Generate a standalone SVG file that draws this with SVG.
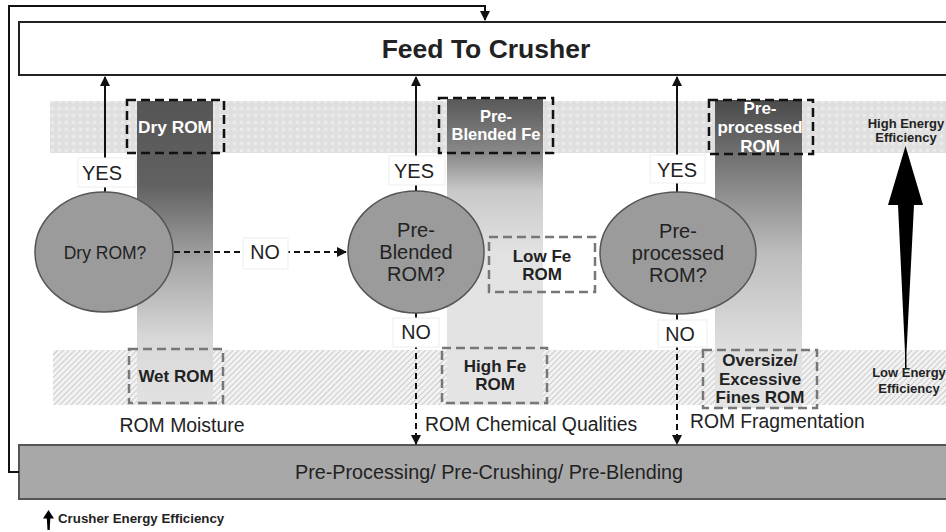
<svg xmlns="http://www.w3.org/2000/svg" width="946" height="532" viewBox="0 0 946 532">
<style>
text{font-family:"Liberation Sans",Arial,sans-serif;fill:#222}
.b{font-weight:bold}
.w{fill:#fff;font-weight:bold}
.lbl{fill:#fff;stroke:#eee;stroke-width:1}
.ell{fill:#9b9b9b;stroke:#555;stroke-width:1.5}
.kd{fill:none;stroke:#111;stroke-width:2.5;stroke-dasharray:9 5}
.gd{fill:none;stroke:#777;stroke-width:2.5;stroke-dasharray:9 5}
.sol{fill:none;stroke:#111;stroke-width:2}
.dsh{fill:none;stroke:#111;stroke-width:2;stroke-dasharray:6 4}
</style>
<defs>
<marker id="ah" viewBox="0 0 10 10" refX="9" refY="5" markerWidth="5" markerHeight="5" orient="auto"><path d="M0,0 L10,5 L0,10 z" fill="#111"/></marker>
<pattern id="dots" width="7" height="7" patternUnits="userSpaceOnUse"><rect width="7" height="7" fill="#dfdfdf"/><circle cx="3.5" cy="3.5" r="2" fill="#eaeaea"/></pattern>
<pattern id="hatch" width="4" height="4" patternUnits="userSpaceOnUse" patternTransform="rotate(45)"><rect width="4" height="4" fill="#f2f2f2"/><line x1="0" y1="0" x2="0" y2="4" stroke="#bcbcbc" stroke-width="1.4"/></pattern>
<linearGradient id="g1" x1="0" y1="0" x2="0" y2="1"><stop offset="0" stop-color="#555"/><stop offset="0.28" stop-color="#626262"/><stop offset="0.52" stop-color="#a3a3a3"/><stop offset="0.78" stop-color="#d8d8d8"/><stop offset="1" stop-color="#e2e2e2"/></linearGradient>
<linearGradient id="g2" x1="0" y1="0" x2="0" y2="1"><stop offset="0" stop-color="#595959"/><stop offset="0.18" stop-color="#8a8a8a"/><stop offset="0.3" stop-color="#c8c8c8"/><stop offset="0.5" stop-color="#e2e2e2"/><stop offset="1" stop-color="#e4e4e4"/></linearGradient>
<linearGradient id="g3" x1="0" y1="0" x2="0" y2="1"><stop offset="0" stop-color="#4a4a4a"/><stop offset="0.22" stop-color="#7a7a7a"/><stop offset="0.5" stop-color="#bdbdbd"/><stop offset="0.8" stop-color="#dedede"/><stop offset="1" stop-color="#e4e4e4"/></linearGradient>
</defs>

<g id="bands">
<rect x="50" y="101" width="896" height="52" fill="url(#dots)"/>
<rect x="53" y="350" width="893" height="55" fill="url(#hatch)"/>
</g>

<g id="columns">
<rect x="137" y="101" width="76" height="304" fill="url(#g1)"/>
<rect x="447" y="99" width="96" height="306" fill="url(#g2)"/>
<rect x="715" y="100" width="87" height="308" fill="url(#g3)"/>
</g>

<g id="feed">
<rect x="19" y="22" width="940" height="53" fill="#fff" stroke="#222" stroke-width="2"/>
<text x="486" y="58" font-size="26.5" class="b" text-anchor="middle">Feed To Crusher</text>
</g>

<g id="pre-processing">
<rect x="19" y="445" width="940" height="54" fill="#a8a8a8" stroke="#555" stroke-width="2"/>
<text x="489" y="479" font-size="19.8" text-anchor="middle">Pre-Processing/ Pre-Crushing/ Pre-Blending</text>
</g>

<g id="connectors">
<path class="sol" d="M19,472 H9 V6 H485 V20" marker-end="url(#ah)"/>
<line class="sol" x1="105" y1="193" x2="105" y2="77" marker-end="url(#ah)"/>
<line class="sol" x1="416" y1="193" x2="416" y2="77" marker-end="url(#ah)"/>
<line class="sol" x1="677" y1="193" x2="677" y2="77" marker-end="url(#ah)"/>
<line class="dsh" x1="174" y1="252" x2="346" y2="252" marker-end="url(#ah)"/>
<line class="dsh" x1="416" y1="313" x2="416" y2="444" marker-end="url(#ah)"/>
<line class="dsh" x1="677" y1="314" x2="677" y2="444" marker-end="url(#ah)"/>
</g>

<g id="dry-rom-box">
<rect class="kd" x="127" y="100" width="97" height="53"/>
<text x="175" y="133" font-size="17.3" class="w" text-anchor="middle">Dry ROM</text>
</g>
<g id="pre-blended-fe-box">
<rect class="kd" x="439" y="98" width="114" height="55"/>
<text x="496" y="122" font-size="16.5" class="w" text-anchor="middle">Pre-</text>
<text x="496" y="140" font-size="16.5" class="w" text-anchor="middle">Blended Fe</text>
</g>
<g id="pre-processed-rom-box">
<rect class="kd" x="709" y="100" width="104" height="54"/>
<text x="760" y="114" font-size="17" class="w" text-anchor="middle">Pre-</text>
<text x="760" y="133" font-size="17" class="w" text-anchor="middle">processed</text>
<text x="760" y="152" font-size="17" class="w" text-anchor="middle">ROM</text>
</g>

<g id="low-fe-box">
<rect class="gd" x="489" y="237" width="106" height="55"/>
<text x="542" y="262" font-size="17" class="b" text-anchor="middle">Low Fe</text>
<text x="542" y="280" font-size="17" class="b" text-anchor="middle">ROM</text>
</g>
<g id="wet-rom-box">
<rect class="gd" x="129" y="349" width="94" height="54"/>
<text x="176" y="382" font-size="17" class="b" text-anchor="middle">Wet ROM</text>
</g>
<g id="high-fe-box">
<rect class="gd" x="442" y="348" width="105" height="55"/>
<text x="495" y="372" font-size="17" class="b" text-anchor="middle">High Fe</text>
<text x="495" y="390" font-size="17" class="b" text-anchor="middle">ROM</text>
</g>
<g id="oversize-box">
<rect class="gd" x="703" y="350" width="114" height="58"/>
<text x="760" y="366" font-size="17" class="b" text-anchor="middle">Oversize/</text>
<text x="760" y="385" font-size="17" class="b" text-anchor="middle">Excessive</text>
<text x="760" y="403" font-size="17" class="b" text-anchor="middle">Fines ROM</text>
</g>

<g id="dry-rom-q">
<ellipse class="ell" cx="104" cy="252" rx="69" ry="60"/>
<text x="105" y="259" font-size="17.5" text-anchor="middle">Dry ROM?</text>
</g>
<g id="pre-blended-q">
<ellipse class="ell" cx="416" cy="252" rx="68" ry="61"/>
<text x="416" y="237" font-size="20" text-anchor="middle">Pre-</text>
<text x="416" y="259" font-size="20" text-anchor="middle">Blended</text>
<text x="416" y="281" font-size="20" text-anchor="middle">ROM?</text>
</g>
<g id="pre-processed-q">
<ellipse class="ell" cx="678" cy="253" rx="78" ry="61"/>
<text x="678" y="238" font-size="20" text-anchor="middle">Pre-</text>
<text x="678" y="260" font-size="20" text-anchor="middle">processed</text>
<text x="678" y="282" font-size="20" text-anchor="middle">ROM?</text>
</g>

<g id="labels">
<rect class="lbl" x="78" y="158" width="58" height="29"/>
<text x="102" y="180" font-size="20" text-anchor="middle">YES</text>
<rect class="lbl" x="389" y="156" width="56" height="29"/>
<text x="414" y="178" font-size="20" text-anchor="middle">YES</text>
<rect class="lbl" x="650" y="155" width="55" height="28"/>
<text x="677" y="177" font-size="20" text-anchor="middle">YES</text>
<rect class="lbl" x="243" y="238" width="45" height="31"/>
<text x="265" y="259" font-size="19.7" text-anchor="middle">NO</text>
<rect class="lbl" x="393" y="318" width="46" height="29"/>
<text x="416" y="339" font-size="19.7" text-anchor="middle">NO</text>
<rect class="lbl" x="658" y="320" width="49" height="27"/>
<text x="680" y="341" font-size="19.7" text-anchor="middle">NO</text>
<text x="182" y="432" font-size="19.4" text-anchor="middle">ROM Moisture</text>
<text x="425" y="431" font-size="19.4">ROM Chemical Qualities</text>
<text x="690" y="428" font-size="19.3">ROM Fragmentation</text>
</g>

<g id="efficiency-scale">
<text x="906" y="128" font-size="13" class="b" text-anchor="middle">High Energy</text>
<text x="906" y="142" font-size="13" class="b" text-anchor="middle">Efficiency</text>
<polygon points="905.5,146 923,205 914,205 906.5,352 906.5,368 905,368 905,352 898,205 888,205" fill="#000"/>
<text x="909" y="377" font-size="13" class="b" text-anchor="middle">Low Energy</text>
<text x="909" y="393" font-size="13" class="b" text-anchor="middle">Efficiency</text>
</g>

<g id="legend">
<polygon points="48.5,510 54,518.5 50.3,518.5 49.7,530 47.5,530 46.8,518.5 43,518.5" fill="#000"/>
<text x="58" y="523" font-size="13.3" class="b">Crusher Energy Efficiency</text>
</g>
</svg>
